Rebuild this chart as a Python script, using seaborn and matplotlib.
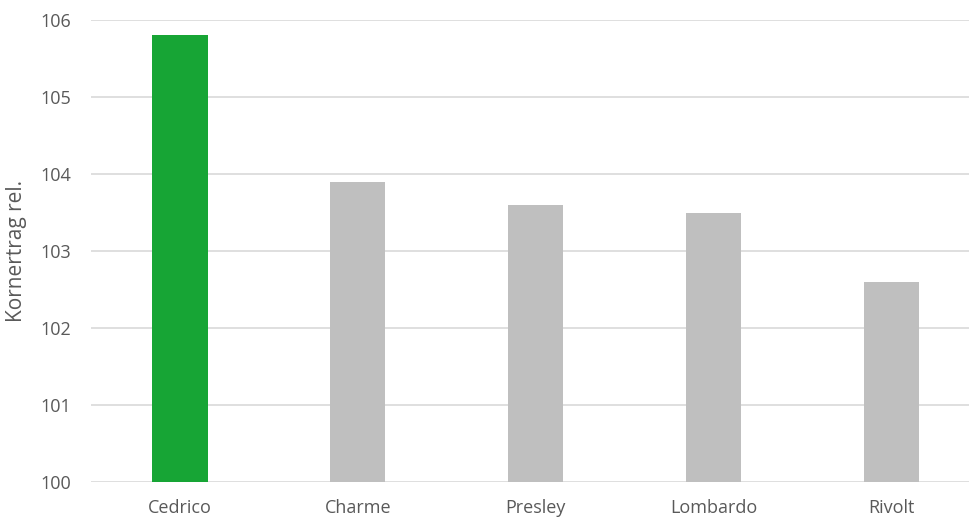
import pandas as pd
import seaborn as sns
import matplotlib.pyplot as plt

sorten = ['Cedrico', 'Charme', 'Presley', 'Lombardo', 'Rivolt']
ertrag = [105.8, 103.9, 103.6, 103.5, 102.6]
farben = ['#17A535', '#BFBFBF', '#BFBFBF', '#BFBFBF', '#BFBFBF']

df = pd.DataFrame({'Sorte': sorten, 'Ertrag': ertrag})

sns.set_style('white')
plt.rcParams['font.family'] = ['Open Sans', 'DejaVu Sans']

fig = plt.figure(figsize=(9.70, 5.17), dpi=100)
ax = fig.add_axes([91 / 970, 35 / 517, 1 - 91 / 970, (482 - 20) / 517])

sns.barplot(data=df, x='Sorte', y='Ertrag', hue='Sorte', palette=farben,
            width=0.31, legend=False, saturation=1, linewidth=0, ax=ax, zorder=2)

ax.set_ylim(100, 106)
ax.set_xlim(-0.5, 4.44)
ax.set_yticks(range(100, 107))
ax.yaxis.grid(True, color='#D9D9D9', linewidth=1.2, zorder=0)
ax.set_axisbelow(True)
for s in ax.spines.values():
    s.set_visible(False)

ax.set_xlabel('')
ax.set_ylabel('Kornertrag rel.', fontsize=15, color='#595959')
ax.yaxis.set_label_coords(-64 / 879, 0.5)
ax.tick_params(axis='both', length=0, labelsize=13, colors='#595959')
ax.tick_params(axis='x', pad=12)
ax.tick_params(axis='y', pad=14)

fig.savefig('out.png', dpi=100)
